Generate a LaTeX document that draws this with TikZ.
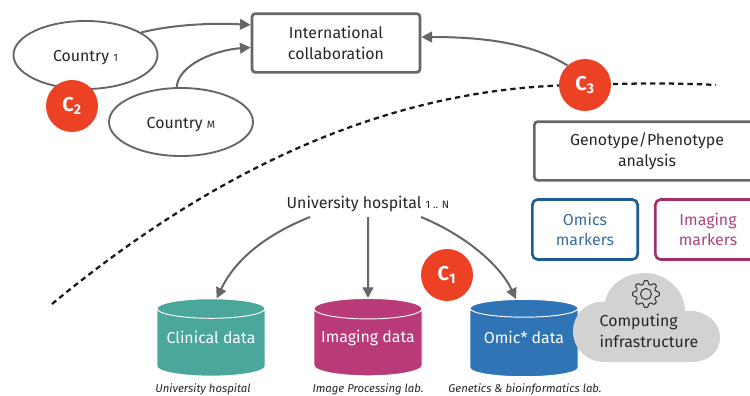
\documentclass[tikz,border=0pt]{standalone}
\usepackage{fontspec}
\setmainfont{Fira Sans}
\usetikzlibrary{shapes.geometric, arrows.meta}
\definecolor{linegray}{HTML}{666666}
\definecolor{badgered}{HTML}{EC4125}
\definecolor{tealdata}{HTML}{4BA79C}
\definecolor{magentadata}{HTML}{B83A78}
\definecolor{bluedata}{HTML}{2F75B5}
\definecolor{bluemark}{HTML}{1F5C94}
\definecolor{magentamark}{HTML}{A02F6C}
\definecolor{cloudgray}{HTML}{D2D2D2}
\newcommand{\smallidx}[1]{{\fontsize{8pt}{9pt}\selectfont #1}}

\begin{document}
\begin{tikzpicture}[x=0.75pt, y=-0.75pt,
        every node/.style={font=\fontsize{11.9pt}{15.5pt}\selectfont, text=black!85, align=center},
        arrow/.style={draw=linegray, line width=1.5pt, -{Triangle[length=8pt,width=8pt]}},
        country/.style={ellipse, draw=linegray, line width=1.4pt, minimum width=108pt, minimum height=51pt, text height=12pt, text depth=2pt},
        bigbox/.style={draw=linegray, line width=2pt, rounded corners=2.5pt, minimum height=44pt},
        markbox/.style={draw=#1, text=#1!90, line width=2pt, rounded corners=4pt, minimum width=79pt, minimum height=45pt},
        badge/.style={circle, fill=badgered, text=white, minimum size=39pt, inner sep=0pt, font=\fontsize{15pt}{17pt}\selectfont\bfseries},
        datastore/.style={cylinder, shape border rotate=90, aspect=0.2, draw=white, line width=0.7pt,
            cylinder uses custom fill, cylinder body fill=#1, cylinder end fill=#1,
            minimum width=81pt, minimum height=58pt},
        datatext/.style={label={[text=white, yshift=5pt]center:#1}},
        caption/.style={font=\fontsize{8.5pt}{10pt}\selectfont\itshape},
        fence/.style={line width=1.7pt, black!90, dash pattern=on 4pt off 3pt}
    ]
        \useasboundingbox (0,0) rectangle (750,396);

        % top level
        \node[bigbox, minimum width=126pt] (intl) at (336,43) {International\\collaboration};
        \node[country] (country1) at (85.5,55) {Country \smallidx{1}};
        \node[country] (countryM) at (181,122) {Country \smallidx{M}};

        \coordinate (fenceL) at (52,304);
        \coordinate (fenceR) at (716,85);
        \coordinate (fenceC) at (585,85);

        \draw[fence] (fenceL) .. controls (190,190) and (370,85) .. (fenceC)
            .. controls (630,83) and (680,83) .. (fenceR);

        \draw[arrow] (country1.22) .. controls (175,24) and (215,23) .. (intl.168);
        \draw[arrow] (countryM.97) .. controls (178,65) and (215,50) .. (intl.183);

        \node[badge] (c2) at (72,106) {C\textsubscript{2}};
        \node[badge] (c3) at (585,85) {C\textsubscript{3}};
        \node[badge] (c1) at (447,275) {C\textsubscript{1}};

        \draw[arrow] (c3.132) .. controls (530,42) and (480,37) .. (intl.4);

        % analysis side
        \node[bigbox, minimum width=169pt] (analysis) at (647,151) {Genotype/Phenotype\\analysis};
        \node[markbox=bluemark] (omics) at (585,229.5) {Omics\\markers};
        \node[markbox=magentamark] (imaging) at (708,229.5) {Imaging\\markers};

        % data sources
        \node (hospital) at (368,204) {University hospital \smallidx{1 .. N}};

        \node[datastore=tealdata, datatext={Clinical data}] (clinical) at (211,344.5) {\phantom{Clinical data}};
        \node[datastore=magentadata, datatext={Imaging data}] (imgdata) at (368,344.5) {\phantom{Imaging data}};
        \node[datastore=bluedata, datatext={Omic* data}] (omicdata) at (524,344.5) {\phantom{Omic* data}};

        \node[caption] at (203,389) (capA) {University hospital};
        \node[caption] at (368,389) (capB) {Image Processing lab.};
        \node[caption] at (525,389) (capC) {Genetics \& bioinformatics lab.};

        \coordinate (hospL) at (310,217);
        \coordinate (hospM) at (368,217);
        \coordinate (hospR) at (421,217);
        \draw[arrow] (hospL) .. controls (265,235) and (235,260) .. (clinical.83);
        \draw[arrow] (hospM) -- (imgdata.90);
        \draw[arrow] (hospR) .. controls (465,235) and (500,265) .. (omicdata.100);

        % cloud
        \fill[cloudgray] (605,302) .. controls (608,285) and (625,273) .. (645,273)
            .. controls (668,273) and (685,292) .. (685,311)
            .. controls (705,309) and (720,322) .. (720,337)
            .. controls (720,352) and (708,362) .. (692,362)
            -- (605,362)
            .. controls (586,362) and (573,348) .. (573,331)
            .. controls (573,314) and (588,300) .. (605,302) -- cycle;
        \begin{scope}[shift={(646,294)}]
            \draw[black!85, line width=0.7pt, rounded corners=0.8pt] (-14:10)
                \foreach \t in {0,45,...,315} { -- (\t-14:10) -- (\t-9:13.5) -- (\t+9:13.5) -- (\t+14:10) } -- cycle;
            \draw[black!85, line width=0.7pt] (0,0) circle (5.5);
        \end{scope}
        \node[align=left, anchor=west] (computing) at (595,331) {Computing\\infrastructure};
\end{tikzpicture}
\end{document}
